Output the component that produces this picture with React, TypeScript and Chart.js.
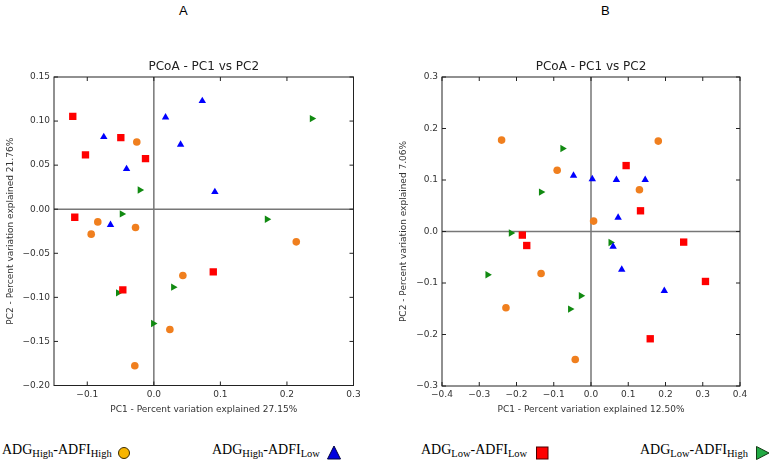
import React, { useEffect, useRef } from "react";
import { Chart, registerables } from "chart.js";
Chart.register(...registerables);

// ---------- Panel A data ----------
const aHHx = [-0.0256, -0.0842, -0.0941, -0.0275, 0.214, 0.0436, 0.0241, -0.0286];
const aHHy = [0.0763, -0.0144, -0.0283, -0.0208, -0.037, -0.0752, -0.1364, -0.1776];
const aHLx = [0.0728, 0.0176, -0.0752, 0.0402, -0.041, 0.0917, -0.0651];
const aHLy = [0.1228, 0.1043, 0.082, 0.0733, 0.0457, 0.0196, -0.0178];
const aLLx = [-0.1218, -0.0496, -0.1027, -0.0125, -0.1188, 0.0893, -0.0466];
const aLLy = [0.1054, 0.0813, 0.0616, 0.0574, -0.0091, -0.0711, -0.0915];
const aLHx = [0.2376, -0.021, -0.048, 0.17, 0.0292, -0.0536, -0.0009];
const aLHy = [0.1028, 0.0219, -0.0053, -0.0113, -0.0884, -0.0949, -0.1296];

// ---------- Panel B data ----------
const bHHx = [-0.24, 0.1806, -0.0908, 0.13, 0.007, -0.134, -0.2283, -0.0423];
const bHHy = [0.1775, 0.1755, 0.119, 0.081, 0.0202, -0.0816, -0.148, -0.2485];
const bHLx = [-0.0469, 0.0035, 0.0682, 0.1455, 0.0728, 0.0593, 0.0825, 0.1968];
const bHLy = [0.1087, 0.1017, 0.1004, 0.1004, 0.0272, -0.0291, -0.0738, -0.1151];
const bLLx = [0.0943, 0.1329, -0.1843, -0.1725, 0.2488, 0.3073, 0.159];
const bLLy = [0.128, 0.0402, -0.007, -0.0272, -0.0206, -0.097, -0.2083];
const bLHx = [-0.0765, -0.134, -0.2148, 0.0528, -0.2776, -0.027, -0.0558];
const bLHy = [0.161, 0.0765, -0.003, -0.0214, -0.084, -0.1249, -0.1507];

// ---------- Ticks ----------
const aXTicks = [-0.1, 0, 0.1, 0.2, 0.3];
const aXTickLabels = ["\u22120.1", "0.0", "0.1", "0.2", "0.3"];
const aYTicks = [0.15, 0.1, 0.05, 0, -0.05, -0.1, -0.15, -0.2];
const aYTickLabels = ["0.15", "0.10", "0.05", "0.00", "\u22120.05", "\u22120.10", "\u22120.15", "\u22120.20"];
const bXTicks = [-0.4, -0.3, -0.2, -0.1, 0, 0.1, 0.2, 0.3, 0.4];
const bXTickLabels = ["\u22120.4", "\u22120.3", "\u22120.2", "\u22120.1", "0.0", "0.1", "0.2", "0.3", "0.4"];
const bYTicks = [0.3, 0.2, 0.1, 0, -0.1, -0.2, -0.3];
const bYTickLabels = ["0.3", "0.2", "0.1", "0.0", "\u22120.1", "\u22120.2", "\u22120.3"];

const chartTitle = "PCoA - PC1 vs PC2";
const aXTitle = "PC1 - Percent variation explained 27.15%";
const aYTitle = "PC2 - Percent variation explained 21.76%";
const bXTitle = "PC1 - Percent variation explained 12.50%";
const bYTitle = "PC2 - Percent variation explained 7.06%";

const FONT = "'DejaVu Sans', sans-serif";

const framePlugin = {
  id: "pcoaFrame",
  beforeDatasetsDraw(chart: any) {
    const { ctx, chartArea: a, scales } = chart;
    const x0 = scales.x.getPixelForValue(0);
    const y0 = scales.y.getPixelForValue(0);
    ctx.save();
    ctx.strokeStyle = "#777777";
    ctx.lineWidth = 1.5;
    ctx.beginPath();
    ctx.moveTo(x0, a.top);
    ctx.lineTo(x0, a.bottom);
    ctx.moveTo(a.left, y0);
    ctx.lineTo(a.right, y0);
    ctx.stroke();
    ctx.restore();
  },
  afterDraw(chart: any) {
    const { ctx, chartArea: a, scales } = chart;
    ctx.save();
    ctx.strokeStyle = "#222222";
    ctx.lineWidth = 1;
    ctx.strokeRect(a.left, a.top, a.right - a.left, a.bottom - a.top);
    const L = 4;
    ctx.beginPath();
    scales.x.ticks.forEach((t: any) => {
      const px = scales.x.getPixelForValue(t.value);
      ctx.moveTo(px, a.bottom);
      ctx.lineTo(px, a.bottom - L);
      ctx.moveTo(px, a.top);
      ctx.lineTo(px, a.top + L);
    });
    scales.y.ticks.forEach((t: any) => {
      const py = scales.y.getPixelForValue(t.value);
      ctx.moveTo(a.left, py);
      ctx.lineTo(a.left + L, py);
      ctx.moveTo(a.right, py);
      ctx.lineTo(a.right - L, py);
    });
    ctx.stroke();
    ctx.restore();
  },
};

type PanelProps = {
  left: number;
  top: number;
  width: number;
  height: number;
  padRight: number;
  yAxisWidth: number;
  xAxisHeight: number;
  yTitlePad: number;
  xTitlePad: number;
  xMin: number;
  xMax: number;
  yMin: number;
  yMax: number;
  xTicks: number[];
  xTickLabels: string[];
  yTicks: number[];
  yTickLabels: string[];
  xTitle: string;
  yTitle: string;
  series: { x: number[]; y: number[] }[];
};

const styles = [
  { color: "#f07f1e", pointStyle: "circle", radius: 3.8, rotation: 0 },
  { color: "#0000ff", pointStyle: "triangle", radius: 4.3, rotation: 0 },
  { color: "#ff0000", pointStyle: "rect", radius: 5.2, rotation: 0 },
  { color: "#118a11", pointStyle: "triangle", radius: 4.3, rotation: 90 },
];

function Panel(p: PanelProps) {
  const ref = useRef<HTMLCanvasElement | null>(null);
  useEffect(() => {
    if (!ref.current) return;
    const tickFont = { family: FONT, size: 9 };
    const chart = new Chart(ref.current, {
      type: "scatter",
      data: {
        datasets: p.series.map((s, i) => ({
          data: s.x.map((x, j) => ({ x, y: s.y[j] })),
          pointStyle: styles[i].pointStyle as any,
          pointRadius: styles[i].radius,
          pointRotation: styles[i].rotation,
          backgroundColor: styles[i].color,
          borderColor: styles[i].color,
          borderWidth: 0,
        })),
      },
      options: {
        animation: false,
        responsive: false,
        maintainAspectRatio: false,
        layout: { padding: { left: 0, right: p.padRight, top: 0, bottom: 0 } },
        plugins: {
          legend: { display: false },
          tooltip: { enabled: false },
          title: {
            display: true,
            text: chartTitle,
            fullSize: false,
            color: "#222222",
            font: { family: FONT, size: 12, weight: "normal" as any, lineHeight: 1.2 },
            padding: { top: 9.5, bottom: 3.1 },
          },
        },
        scales: {
          x: {
            type: "linear",
            min: p.xMin,
            max: p.xMax,
            grid: { display: false, drawTicks: false },
            border: { display: false },
            afterBuildTicks: (s: any) => {
              s.ticks = p.xTicks.map((v) => ({ value: v }));
            },
            afterFit: (s: any) => {
              s.height = p.xAxisHeight;
            },
            ticks: {
              autoSkip: false,
              maxRotation: 0,
              padding: 3.5,
              color: "#333333",
              font: tickFont,
              callback: (v: any) => {
                const k = p.xTicks.findIndex((t) => Math.abs(t - v) < 1e-9);
                return k >= 0 ? p.xTickLabels[k] : "";
              },
            },
            title: {
              display: true,
              text: p.xTitle,
              color: "#333333",
              font: { family: FONT, size: 9, lineHeight: 1.2 },
              padding: { top: 0, bottom: p.xTitlePad },
            },
          },
          y: {
            type: "linear",
            min: p.yMin,
            max: p.yMax,
            grid: { display: false, drawTicks: false },
            border: { display: false },
            afterBuildTicks: (s: any) => {
              s.ticks = p.yTicks.map((v) => ({ value: v }));
            },
            afterFit: (s: any) => {
              s.width = p.yAxisWidth;
            },
            ticks: {
              autoSkip: false,
              padding: 4,
              color: "#333333",
              font: tickFont,
              callback: (v: any) => {
                const k = p.yTicks.findIndex((t) => Math.abs(t - v) < 1e-9);
                return k >= 0 ? p.yTickLabels[k] : "";
              },
            },
            title: {
              display: true,
              text: p.yTitle,
              color: "#333333",
              font: { family: FONT, size: 9, lineHeight: 1.2 },
              padding: { top: p.yTitlePad, bottom: 0 },
            },
          },
        },
      },
      plugins: [framePlugin],
    });
    return () => chart.destroy();
  }, []);
  return (
    <canvas
      ref={ref}
      width={p.width}
      height={p.height}
      style={{ position: "absolute", left: p.left, top: p.top, width: p.width, height: p.height }}
    />
  );
}

const legendTexts = [
  ["ADG", "High", "-ADFI", "High"],
  ["ADG", "High", "-ADFI", "Low"],
  ["ADG", "Low", "-ADFI", "Low"],
  ["ADG", "Low", "-ADFI", "High"],
];
const legendLeft = [2, 212, 421, 640];

function LegendItem({ idx }: { idx: number }) {
  const t = legendTexts[idx];
  const sub = { fontSize: 10.5, verticalAlign: -3, lineHeight: "0" } as React.CSSProperties;
  return (
    <div
      style={{
        position: "absolute",
        left: legendLeft[idx],
        top: 442,
        fontFamily: "'Liberation Serif', 'Times New Roman', serif",
        fontSize: 14,
        lineHeight: "16px",
        color: "#000",
        whiteSpace: "nowrap",
      }}
    >
      {t[0]}
      <sub style={sub}>{t[1]}</sub>
      {t[2]}
      <sub style={sub}>{t[3]}</sub>
    </div>
  );
}

function LegendMarkers() {
  return (
    <svg style={{ position: "absolute", left: 0, top: 440, width: 771, height: 24 }} width={771} height={24}>
      <circle cx={124} cy={13} r={5.5} fill="#f7b500" stroke="#3a2a00" strokeWidth={1} />
      <polygon points="327.5,19 340.5,19 334,6" fill="#0000dd" stroke="#000044" strokeWidth={1} />
      <rect x={536.5} y={7} width={11.5} height={12} fill="#ff0000" stroke="#4a0000" strokeWidth={1} />
      <polygon points="756.5,6.5 756.5,19.5 769,13" fill="#22aa44" stroke="#143a14" strokeWidth={1} />
    </svg>
  );
}

export default function App() {
  const header = {
    position: "absolute",
    top: 3,
    fontFamily: "'Liberation Sans', Arial, sans-serif",
    fontSize: 13,
    lineHeight: "15px",
    color: "#000",
  } as React.CSSProperties;
  return (
    <div style={{ position: "absolute", left: 0, top: 0, width: 771, height: 464, background: "#fff", overflow: "hidden" }}>
      <div style={{ ...header, left: 179 }}>A</div>
      <div style={{ ...header, left: 601 }}>B</div>
      <Panel
        left={0}
        top={50}
        width={366}
        height={370}
        padRight={12.5}
        yAxisWidth={54}
        xAxisHeight={34.5}
        yTitlePad={5}
        xTitlePad={5.3}
        xMin={-0.15}
        xMax={0.3}
        yMin={-0.2}
        yMax={0.15}
        xTicks={aXTicks}
        xTickLabels={aXTickLabels}
        yTicks={aYTicks}
        yTickLabels={aYTickLabels}
        xTitle={aXTitle}
        yTitle={aYTitle}
        series={[
          { x: aHHx, y: aHHy },
          { x: aHLx, y: aHLy },
          { x: aLLx, y: aLLy },
          { x: aLHx, y: aLHy },
        ]}
      />
      <Panel
        left={390}
        top={50}
        width={381}
        height={370}
        padRight={31}
        yAxisWidth={52}
        xAxisHeight={34}
        yTitlePad={8.3}
        xTitlePad={5.3}
        xMin={-0.4}
        xMax={0.4}
        yMin={-0.3}
        yMax={0.3}
        xTicks={bXTicks}
        xTickLabels={bXTickLabels}
        yTicks={bYTicks}
        yTickLabels={bYTickLabels}
        xTitle={bXTitle}
        yTitle={bYTitle}
        series={[
          { x: bHHx, y: bHHy },
          { x: bHLx, y: bHLy },
          { x: bLLx, y: bLLy },
          { x: bLHx, y: bLHy },
        ]}
      />
      {[0, 1, 2, 3].map((i) => (
        <LegendItem key={i} idx={i} />
      ))}
      <LegendMarkers />
    </div>
  );
}
